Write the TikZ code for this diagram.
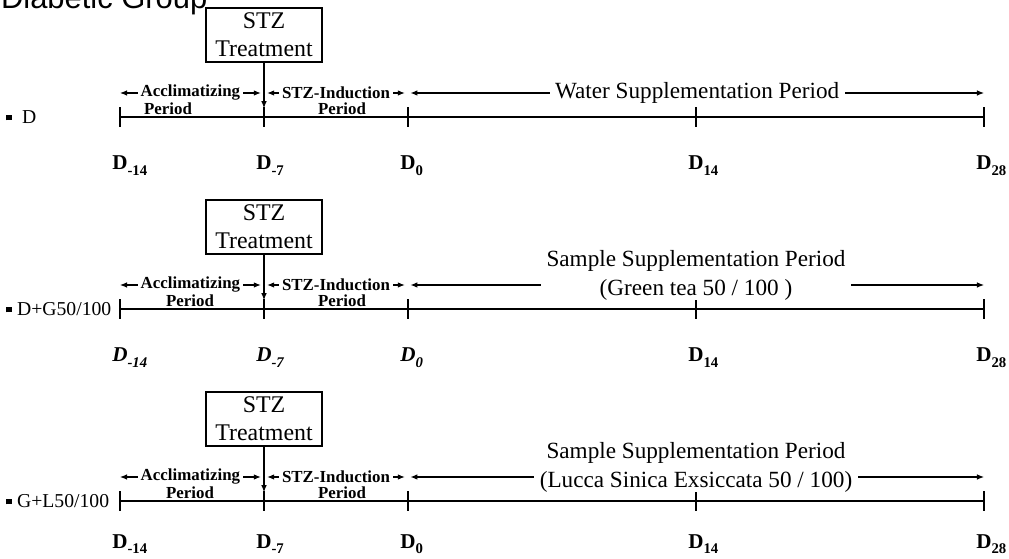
\documentclass[tikz,border=0pt]{standalone}
\usepackage{fontspec}
\setmainfont{Liberation Serif}
\newfontfamily\titlefont{Liberation Sans}
\usetikzlibrary{arrows.meta}
\tikzset{
  >={Latex[length=5pt,width=4pt]},
  tl/.style={line width=0.8pt},
  treat/.style={draw, line width=0.8pt, minimum width=2.9cm, minimum height=1.35cm, align=center, inner sep=1pt, font=\fontsize{17}{20}\selectfont},
  phase/.style={fill=white, inner xsep=2pt, inner ysep=0pt, font=\bfseries\fontsize{12}{14}\selectfont},
  perlab/.style={inner sep=0pt, font=\bfseries\fontsize{12}{14}\selectfont},
  supp/.style={fill=white, inner xsep=4pt, inner ysep=0pt, align=center, font=\fontsize{16.5}{20}\selectfont},
  daylab/.style={anchor=base west, inner sep=0pt, font=\bfseries\fontsize{15}{18}\selectfont},
  grouplab/.style={anchor=west, inner sep=0pt, font=\fontsize{14}{16}\selectfont},
}
\newcommand{\dday}[1]{D\raisebox{-0.55ex}{\scalebox{0.7}{#1}}}
\newcommand{\sq}{\raisebox{0.15em}{\rule{0.3em}{0.3em}}}
\begin{document}
\begin{tikzpicture}
\useasboundingbox (0,0) rectangle (25.225,13.975);
\node[anchor=base west, inner sep=0pt, font=\titlefont\fontsize{22}{26}\selectfont] (title) at (0.02,13.75) {Diabetic Group};

% group D
\begin{scope}[yshift=11.05cm]
\draw[tl] (3,0) -- (24.6,0);
\foreach \x in {3,6.6,10.2,17.4,24.6} \draw[tl] (\x,-0.25) -- (\x,0.25);
\node[grouplab] (grp1) at (0.15,0) {\sq\ \ D};
\node[treat] (stz1) at (6.6,2.05) {STZ\\Treatment};
\coordinate (hit1) at (6.6,0.22);
\draw[tl,->] (stz1) -- (hit1);
\draw[tl,<->] (3,0.6) -- node[phase] (acc1) {Acclimatizing} (6.52,0.6);
\draw[tl,<->] (6.68,0.6) -- node[phase] (ind1) {STZ-Induction} (10.12,0.6);
\draw[tl,<->] (10.26,0.6) -- node[supp] (sup1) {Water Supplementation Period} (24.6,0.6);
\node[perlab] (pa1) at (4.2,0.2) {Period};
\node[perlab] (pb1) at (8.55,0.2) {Period};
\node[daylab] (d1a) at (2.8,-1.32) {\dday{-14}};
\node[daylab] (d1b) at (6.4,-1.32) {\dday{-7}};
\node[daylab] (d1c) at (10.0,-1.32) {\dday{0}};
\node[daylab] (d1d) at (17.2,-1.32) {\dday{14}};
\node[daylab] (d1e) at (24.4,-1.32) {\dday{28}};
\end{scope}

% group D+G
\begin{scope}[yshift=6.25cm]
\draw[tl] (3,0) -- (24.6,0);
\foreach \x in {3,6.6,10.2,17.4,24.6} \draw[tl] (\x,-0.25) -- (\x,0.25);
\node[grouplab] (grp2) at (0.15,0) {\sq\ D+G50/100};
\node[treat] (stz2) at (6.6,2.05) {STZ\\Treatment};
\coordinate (hit2) at (6.6,0.22);
\draw[tl,->] (stz2) -- (hit2);
\draw[tl,<->] (3,0.6) -- node[phase] (acc2) {Acclimatizing} (6.52,0.6);
\draw[tl,<->] (6.68,0.6) -- node[phase] (ind2) {STZ-Induction} (10.12,0.6);
\draw[tl,<->] (10.26,0.6) -- (24.6,0.6);
\node[supp] (sup2) at (17.4,0.84) {Sample Supplementation Period\\(Green tea 50 / 100 )};
\node[perlab] (pa2) at (4.75,0.2) {Period};
\node[perlab] (pb2) at (8.55,0.2) {Period};
\node[daylab] (d2a) at (2.8,-1.32) {\itshape\dday{-14}};
\node[daylab] (d2b) at (6.4,-1.32) {\itshape\dday{-7}};
\node[daylab] (d2c) at (10.0,-1.32) {\itshape\dday{0}};
\node[daylab] (d2d) at (17.2,-1.32) {\dday{14}};
\node[daylab] (d2e) at (24.4,-1.32) {\dday{28}};
\end{scope}

% group G+L
\begin{scope}[yshift=1.45cm]
\draw[tl] (3,0) -- (24.6,0);
\foreach \x in {3,6.6,10.2,17.4,24.6} \draw[tl] (\x,-0.25) -- (\x,0.25);
\node[grouplab] (grp3) at (0.15,0) {\sq\ G+L50/100};
\node[treat] (stz3) at (6.6,2.05) {STZ\\Treatment};
\coordinate (hit3) at (6.6,0.22);
\draw[tl,->] (stz3) -- (hit3);
\draw[tl,<->] (3,0.6) -- node[phase] (acc3) {Acclimatizing} (6.52,0.6);
\draw[tl,<->] (6.68,0.6) -- node[phase] (ind3) {STZ-Induction} (10.12,0.6);
\draw[tl,<->] (10.26,0.6) -- (24.6,0.6);
\node[supp] (sup3) at (17.4,0.84) {Sample Supplementation Period\\(Lucca Sinica Exsiccata 50 / 100)};
\node[perlab] (pa3) at (4.75,0.2) {Period};
\node[perlab] (pb3) at (8.55,0.2) {Period};
\node[daylab] (d3a) at (2.8,-1.18) {\dday{-14}};
\node[daylab] (d3b) at (6.4,-1.18) {\dday{-7}};
\node[daylab] (d3c) at (10.0,-1.18) {\dday{0}};
\node[daylab] (d3d) at (17.2,-1.18) {\dday{14}};
\node[daylab] (d3e) at (24.4,-1.18) {\dday{28}};
\end{scope}
\end{tikzpicture}
\end{document}
